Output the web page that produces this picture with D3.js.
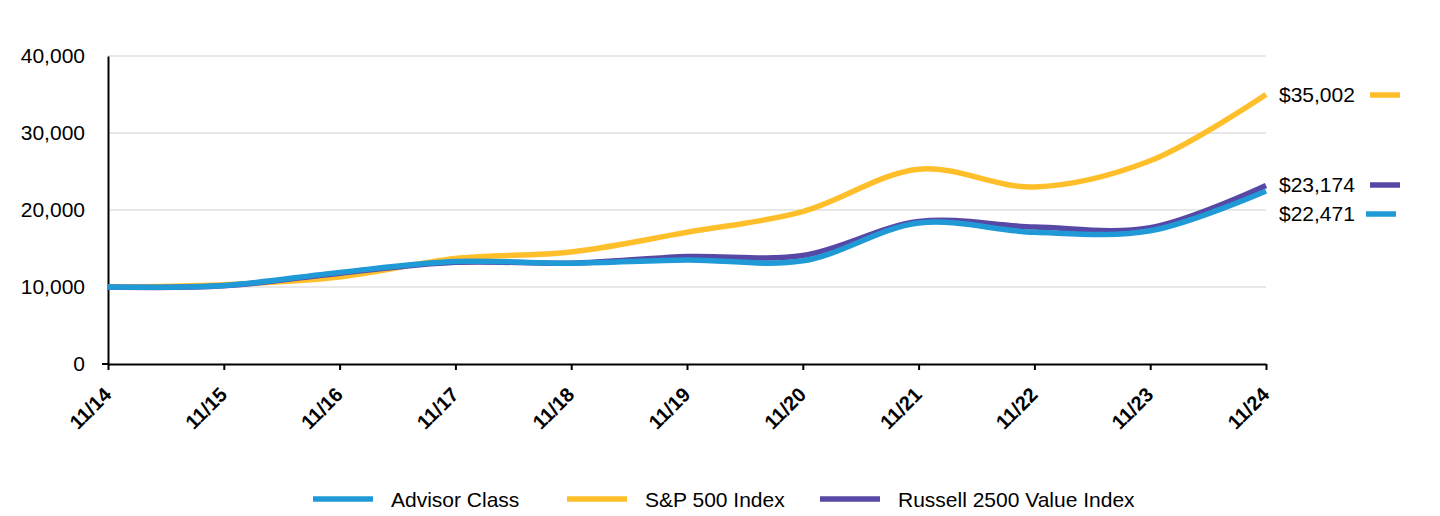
<!DOCTYPE html>
<html><head><meta charset="utf-8">
<script src="https://cdn.jsdelivr.net/npm/d3@7"></script>
<style>body{margin:0;background:#fff;font-family:"Liberation Sans",Arial,sans-serif;}</style>
</head><body><svg id="c" width="1440" height="516"></svg>
<script>
const categories = ["11/14","11/15","11/16","11/17","11/18","11/19","11/20","11/21","11/22","11/23","11/24"];
const advisor = [10000,10200,11900,13300,13100,13500,13400,18300,17100,17300,22471];
const sp500 = [10000,10300,11300,13700,14550,17100,19800,25300,23000,26400,35002];
const russell = [10000,10150,11800,13200,13100,13950,14100,18500,17800,17700,23174];
const yTicks = [0,10000,20000,30000,40000];
const seriesNames = ["Advisor Class","S&P 500 Index","Russell 2500 Value Index"];
const endLabels = ["$22,471","$35,002","$23,174"];
const colors = {adv:"#209AD6", sp:"#FFBF2A", rus:"#5848A6"};

const svg = d3.select("#c");
const L=108,R=1266,T=56,B=364;
const x = d3.scalePoint().domain(categories).range([L,R]);
const y = d3.scaleLinear().domain([0,40000]).range([B,T]);

// grid
svg.append("g").selectAll("line").data(yTicks.filter(d=>d>0)).join("line")
 .attr("x1",L).attr("x2",R).attr("y1",d=>y(d)).attr("y2",d=>y(d))
 .attr("stroke","#e0e0e0").attr("stroke-width",1.5);

// y axis
const ya = svg.append("g").attr("transform",`translate(${L},0)`)
 .call(d3.axisLeft(y).tickValues(yTicks).tickFormat(d3.format(",")).tickSize(0).tickPadding(23));
ya.select(".domain").attr("stroke","#000").attr("stroke-width",2);
ya.selectAll("text").attr("font-size",21).attr("font-family","Liberation Sans, Arial").attr("fill","#000");
svg.append("line").attr("x1",L-6).attr("x2",L).attr("y1",B).attr("y2",B).attr("stroke","#000").attr("stroke-width",2);

// x axis
const xa = svg.append("g").attr("transform",`translate(0,${B})`)
 .call(d3.axisBottom(x).tickSizeInner(6).tickSizeOuter(0).tickPadding(6));
xa.select(".domain").attr("stroke","#000").attr("stroke-width",2);
xa.selectAll(".tick line").attr("stroke","#000").attr("stroke-width",2);
xa.selectAll("text").attr("font-size",20).attr("font-weight","bold")
 .attr("font-family","Liberation Sans, Arial").attr("fill","#000")
 .attr("text-anchor","end").attr("x",0).attr("y",0).attr("dy","0")
 .attr("transform","translate(4,32) rotate(-45)");

const line = d3.line().x((d,i)=>x(categories[i])).y(d=>y(d)).curve(d3.curveCatmullRom.alpha(0.5));
const order = [[sp500,colors.sp],[russell,colors.rus],[advisor,colors.adv]];
order.forEach(([data,c])=>{
  svg.append("path").datum(data).attr("d",line).attr("fill","none")
   .attr("stroke",c).attr("stroke-width",5.5);
});

// end labels
const ends = [
 {t:endLabels[1], v:sp500[10], c:colors.sp, yy:95, sx:1370},
 {t:endLabels[2], v:russell[10], c:colors.rus, yy:185, sx:1370},
 {t:endLabels[0], v:advisor[10], c:colors.adv, yy:214, sx:1366}
];
ends.forEach(e=>{
  svg.append("text").attr("x",1279).attr("y",e.yy).attr("dy","0.35em")
   .attr("font-size",21).attr("fill","#000").text(e.t);
  svg.append("line").attr("x1",e.sx).attr("x2",e.sx+30).attr("y1",e.yy).attr("y2",e.yy)
   .attr("stroke",e.c).attr("stroke-width",5.5);
});

// legend
const leg = [
 {n:seriesNames[0], c:colors.adv, x:313},
 {n:seriesNames[1], c:colors.sp, x:567},
 {n:seriesNames[2], c:colors.rus, x:820}
];
leg.forEach(l=>{
  svg.append("line").attr("x1",l.x).attr("x2",l.x+60).attr("y1",499).attr("y2",499)
   .attr("stroke",l.c).attr("stroke-width",5.5);
  svg.append("text").attr("x",l.x+78).attr("y",500).attr("dy","0.35em")
   .attr("font-size",21).attr("fill","#000").text(l.n);
});
</script></body></html>
